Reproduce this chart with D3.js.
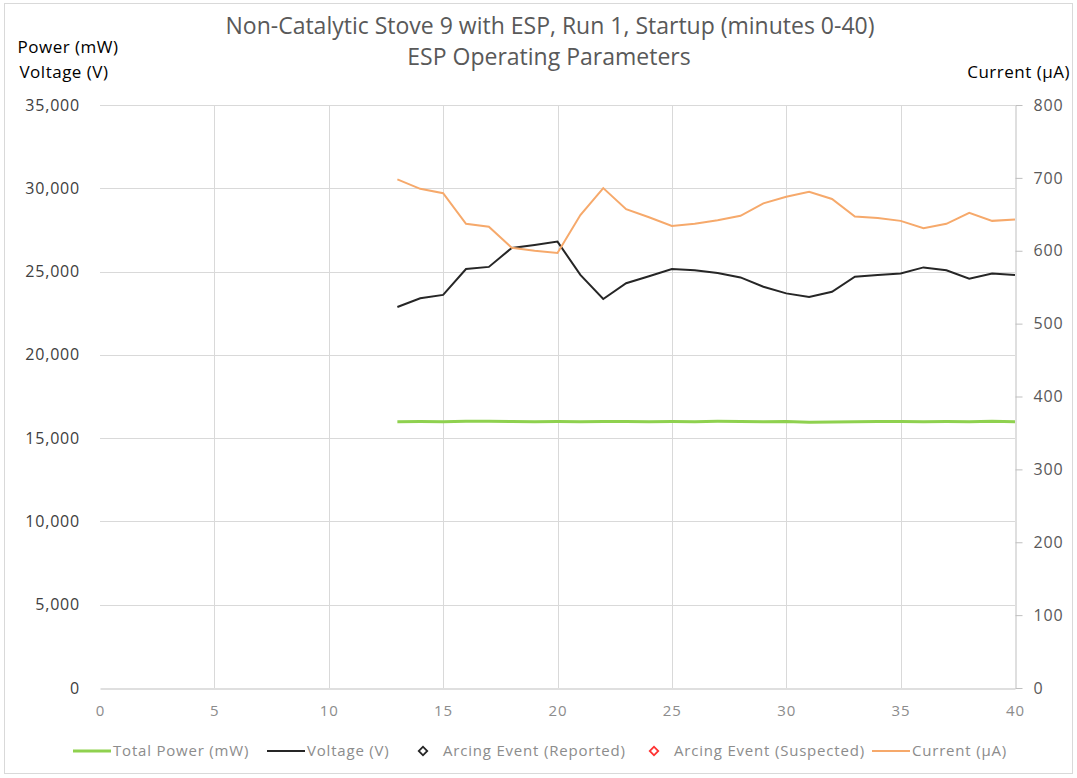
<!DOCTYPE html>
<html lang="en">
<head>
<meta charset="UTF-8">
<title>ESP Operating Parameters</title>
<script src="https://cdn.jsdelivr.net/npm/d3@7"></script>
<style>
  body { margin: 0; background: #fff; }
  text { font-family: "Open Sans", "Lato", sans-serif; }
</style>
</head>
<body>

<script type="text/javascript">
  // Width and height
  var w = 1077;
  var h = 778;

  // data
  var minutes = [13, 14, 15, 16, 17, 18, 19, 20, 21, 22, 23, 24, 25, 26,
                 27, 28, 29, 30, 31, 32, 33, 34, 35, 36, 37, 38, 39, 40];
  var powerMW = [15980, 16000, 15990, 16010, 16020, 16000, 15990, 16000, 15990, 16000, 16000, 15990, 16000, 15990,
                 16010, 16000, 15990, 16000, 15950, 15970, 15990, 16000, 16000, 15990, 16000, 15990, 16010, 15990];
  var voltageV = [22870, 23400, 23600, 25150, 25280, 26420, 26600, 26800, 24800, 23350, 24300, 24720, 25150, 25080,
                  24920, 24650, 24090, 23690, 23470, 23790, 24690, 24790, 24890, 25250, 25080, 24570, 24890, 24790];
  var currentUA = [698, 685, 679, 637, 633, 604, 600, 597, 649, 686, 657, 646, 634, 637,
                   642, 648, 665, 674, 681, 671, 647, 645, 641, 631, 637, 652, 641, 643];
  var arcReported = [];
  var arcSuspected = [];

  var xTicks = [0, 5, 10, 15, 20, 25, 30, 35, 40];
  var leftTicks = [0, 5000, 10000, 15000, 20000, 25000, 30000, 35000];
  var rightTicks = [0, 100, 200, 300, 400, 500, 600, 700, 800];

  var plotLeft = 100, plotRight = 1015, plotTop = 105, plotBottom = 688;

  var xScale = d3.scaleLinear().domain([0, 40]).range([plotLeft, plotRight]);
  var yLeft = d3.scaleLinear().domain([0, 35000]).range([plotBottom, plotTop]);
  var yRight = d3.scaleLinear().domain([0, 800]).range([plotBottom, plotTop]);

  var svg = d3.select("body")
    .append("svg")
    .attr("width", w)
    .attr("height", h);

  // chart border
  svg.append("rect")
    .attr("x", 4.5).attr("y", 3.5)
    .attr("width", w - 9).attr("height", h - 8)
    .attr("fill", "none")
    .attr("stroke", "#d9d9d9");

  // grid
  svg.append("g").selectAll("line")
    .data(leftTicks.slice(1))
    .enter().append("line")
    .attr("x1", plotLeft).attr("x2", plotRight)
    .attr("y1", function(d) { return Math.round(yLeft(d)) + 0.5; })
    .attr("y2", function(d) { return Math.round(yLeft(d)) + 0.5; })
    .attr("stroke", "#d9d9d9");

  svg.append("g").selectAll("line")
    .data(xTicks.slice(1, -1))
    .enter().append("line")
    .attr("x1", function(d) { return Math.round(xScale(d)) + 0.5; })
    .attr("x2", function(d) { return Math.round(xScale(d)) + 0.5; })
    .attr("y1", plotTop).attr("y2", plotBottom)
    .attr("stroke", "#d9d9d9");

  // bottom axis
  var xAxis = svg.append("g")
    .attr("transform", "translate(0," + (plotBottom + 0.5) + ")")
    .call(d3.axisBottom(xScale).tickValues(xTicks).tickSize(0).tickPadding(17));
  xAxis.select(".domain").attr("stroke", "#bfbfbf");
  xAxis.selectAll("text").attr("fill", "#8c8c8c")
    .style("font-size", "15px").style("letter-spacing", "1px");

  // left axis
  var yAxisL = svg.append("g")
    .attr("transform", "translate(" + (plotLeft - 20) + ",0)")
    .call(d3.axisLeft(yLeft).tickValues(leftTicks).tickSize(0).tickPadding(0)
      .tickFormat(d3.format(",")));
  yAxisL.select(".domain").remove();
  yAxisL.selectAll("text").attr("fill", "#404040")
    .style("font-size", "16px").style("letter-spacing", "0.8px");

  // right axis
  var yAxisR = svg.append("g")
    .attr("transform", "translate(" + (plotRight + 0.5) + ",0)")
    .call(d3.axisRight(yRight).tickValues(rightTicks).tickSize(7).tickSizeOuter(0).tickPadding(11));
  yAxisR.select(".domain").attr("stroke", "#bfbfbf");
  yAxisR.selectAll(".tick line").attr("stroke", "#bfbfbf");
  yAxisR.selectAll("text").attr("fill", "#595959")
    .style("font-size", "16px").style("letter-spacing", "0.8px");

  // lines
  var lineLeft = d3.line()
    .x(function(d) { return xScale(d[0]); })
    .y(function(d) { return yLeft(d[1]); });
  var lineRight = d3.line()
    .x(function(d) { return xScale(d[0]); })
    .y(function(d) { return yRight(d[1]); });

  svg.append("path")
    .datum(d3.zip(minutes, powerMW))
    .attr("d", lineLeft)
    .attr("fill", "none")
    .attr("stroke", "#8fd14f")
    .attr("stroke-width", 3);

  svg.append("path")
    .datum(d3.zip(minutes, voltageV))
    .attr("d", lineLeft)
    .attr("fill", "none")
    .attr("stroke", "#262626")
    .attr("stroke-width", 2);

  svg.append("path")
    .datum(d3.zip(minutes, currentUA))
    .attr("d", lineRight)
    .attr("fill", "none")
    .attr("stroke", "#f6a96b")
    .attr("stroke-width", 2);

  // arcing events (none in this run)
  var diamond = d3.symbol().type(d3.symbolDiamond).size(50);
  svg.selectAll(".arcR").data(arcReported).enter().append("path")
    .attr("d", diamond)
    .attr("transform", function(d) { return "translate(" + xScale(d[0]) + "," + yLeft(d[1]) + ")"; })
    .attr("fill", "none").attr("stroke", "#262626").attr("stroke-width", 2);
  svg.selectAll(".arcS").data(arcSuspected).enter().append("path")
    .attr("d", diamond)
    .attr("transform", function(d) { return "translate(" + xScale(d[0]) + "," + yLeft(d[1]) + ")"; })
    .attr("fill", "none").attr("stroke", "#ff3333").attr("stroke-width", 2);

  // titles
  svg.append("text")
    .attr("x", 550).attr("y", 34)
    .attr("text-anchor", "middle")
    .attr("fill", "#595959")
    .style("font-size", "23px")
    .text("Non-Catalytic Stove 9 with ESP, Run 1, Startup (minutes 0-40)");
  svg.append("text")
    .attr("x", 549).attr("y", 65)
    .attr("text-anchor", "middle")
    .attr("fill", "#595959")
    .style("font-size", "23px")
    .text("ESP Operating Parameters");

  svg.append("text")
    .attr("x", 68).attr("y", 53)
    .attr("text-anchor", "middle")
    .attr("fill", "#000")
    .style("font-size", "17px").style("letter-spacing", "0.5px")
    .text("Power (mW)");
  svg.append("text")
    .attr("x", 64).attr("y", 78)
    .attr("text-anchor", "middle")
    .attr("fill", "#000")
    .style("font-size", "17px").style("letter-spacing", "0.5px")
    .text("Voltage (V)");
  svg.append("text")
    .attr("x", 1070).attr("y", 78)
    .attr("text-anchor", "end")
    .attr("fill", "#000")
    .style("font-size", "17px").style("letter-spacing", "0.5px")
    .text("Current (µA)");

  // legend
  var legendItems = [
    { label: "Total Power (mW)", type: "line", color: "#8fd14f", x: 73, width: 3 },
    { label: "Voltage (V)", type: "line", color: "#262626", x: 267, width: 2 },
    { label: "Arcing Event (Reported)", type: "diamond", color: "#262626", x: 423 },
    { label: "Arcing Event (Suspected)", type: "diamond", color: "#ff3333", x: 654 },
    { label: "Current (µA)", type: "line", color: "#f6a96b", x: 872, width: 2 }
  ];
  var ly = 751;
  var lg = svg.append("g").selectAll("g")
    .data(legendItems)
    .enter().append("g");
  lg.each(function(d) {
    var g = d3.select(this);
    if (d.type === "line") {
      g.append("line")
        .attr("x1", d.x).attr("x2", d.x + 38)
        .attr("y1", ly).attr("y2", ly)
        .attr("stroke", d.color).attr("stroke-width", d.width);
      g.append("text")
        .attr("x", d.x + 40).attr("y", ly + 5)
        .attr("fill", "#8c8c8c").style("font-size", "15px").style("letter-spacing", "0.8px")
        .text(d.label);
    } else {
      g.append("path")
        .attr("d", d3.symbol().type(d3.symbolSquare).size(36))
        .attr("transform", "translate(" + d.x + "," + ly + ") rotate(45)")
        .attr("fill", "none").attr("stroke", d.color).attr("stroke-width", 1.8);
      g.append("text")
        .attr("x", d.x + 20).attr("y", ly + 5)
        .attr("fill", "#8c8c8c").style("font-size", "15px").style("letter-spacing", "0.8px")
        .text(d.label);
    }
  });
</script>

</body>
</html>
